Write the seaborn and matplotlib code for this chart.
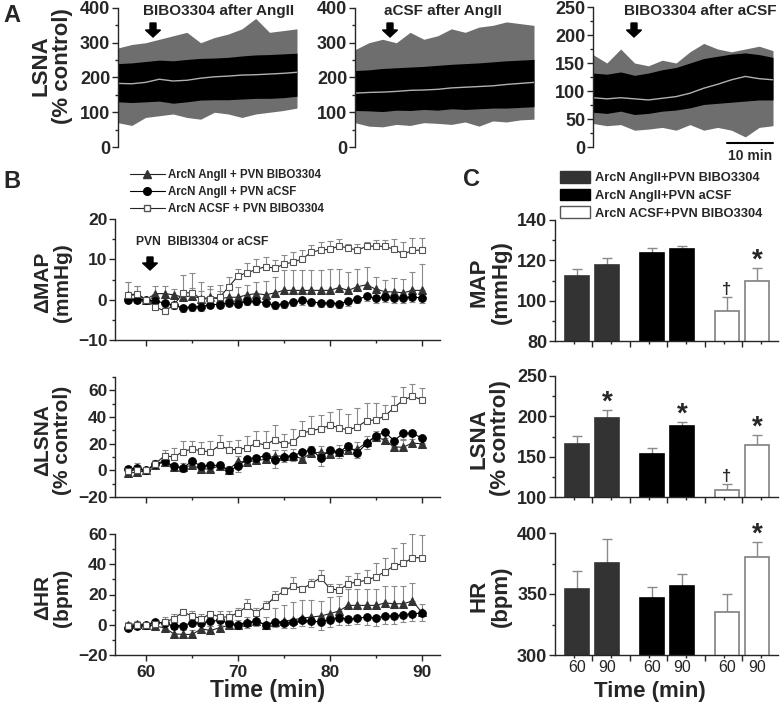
import numpy as np
import pandas as pd
import matplotlib
matplotlib.use("Agg")
import matplotlib.pyplot as plt
import seaborn as sns
from matplotlib.patches import Patch, FancyArrow
from matplotlib.lines import Line2D
from matplotlib.ticker import MultipleLocator

# ---------------- data ----------------
# Panel A: raw LSNA traces, read as envelopes (min vs % control)
a_time = [0, 3, 6, 9, 12, 15, 18, 21, 24, 27, 30, 33, 36, 39]
a1_outer_hi = [285, 295, 300, 310, 320, 330, 300, 315, 325, 340, 370, 330, 335, 340]
a1_inner_hi = [240, 242, 246, 250, 248, 252, 255, 256, 258, 262, 265, 266, 268, 270]
a1_mean = [183, 182, 186, 195, 190, 192, 198, 202, 204, 207, 208, 210, 212, 215]
a1_inner_lo = [130, 128, 130, 132, 126, 130, 135, 136, 136, 138, 140, 140, 142, 146]
a1_outer_lo = [70, 62, 85, 90, 95, 85, 80, 100, 95, 85, 95, 100, 105, 112]

a2_outer_hi = [280, 300, 310, 300, 330, 310, 320, 340, 330, 345, 350, 360, 355, 350]
a2_inner_hi = [220, 222, 226, 228, 230, 232, 235, 238, 240, 242, 245, 248, 250, 252]
a2_mean = [155, 157, 158, 160, 163, 164, 166, 170, 172, 174, 176, 180, 183, 186]
a2_inner_lo = [105, 104, 102, 106, 105, 108, 106, 110, 108, 110, 112, 112, 114, 116]
a2_outer_lo = [70, 60, 58, 65, 62, 70, 68, 65, 72, 60, 75, 72, 78, 80]

a3_outer_hi = [165, 150, 175, 150, 145, 155, 150, 170, 185, 175, 170, 175, 180, 172]
a3_inner_hi = [132, 130, 134, 128, 132, 138, 142, 150, 158, 162, 166, 168, 165, 160]
a3_mean = [88, 86, 88, 86, 84, 87, 90, 96, 105, 112, 120, 126, 122, 120]
a3_inner_lo = [62, 60, 64, 58, 60, 64, 66, 70, 76, 78, 80, 82, 84, 84]
a3_outer_lo = [42, 38, 40, 30, 32, 35, 30, 40, 30, 35, 30, 18, 35, 38]

# Panel B: time course (mean, SEM)
t = list(range(58, 91))
map_tri = [1.1, 1.2, 0, 1.5, 1.5, 1.2, 0.6, 1.0, 0.2, 0.6, 0.2, 0.6, 0.6, 1.2, 1.5, 1.2, 1.7,
           2.3, 2.3, 2.3, 2.3, 2.3, 2.3, 3.0, 2.3, 3.2, 3.7, 2.6, 2.0, 1.9, 1.7, 2.3, 2.3]
map_tri_e = [3.3, 2.1, 0, 2.0, 2.0, 1.5, 1.5, 2.0, 2.0, 2.0, 2.0, 2.5, 2.5, 2.5, 3.0, 3.5, 4.0,
             5.0, 5.0, 5.0, 5.0, 5.0, 5.2, 4.5, 4.5, 4.5, 4.5, 3.0, 3.0, 3.5, 3.5, 4.5, 6.5]
map_ci = [0, 0, 0, -0.4, -0.8, -1.4, -2.0, -1.8, -1.7, -1.2, -1.2, -0.8, -1.0, -0.4, -0.4, -0.8, -1.4,
          -1.0, -0.6, -0.2, -0.6, -0.8, -0.8, -1.0, -0.4, 0.1, 0.8, 0.4, 0.7, 0.4, 0.4, 0.7, 0.4]
map_ci_e = [0.8, 0.8, 0, 0.8, 1.0, 1.0, 1.0, 1.0, 1.0, 0.8, 0.8, 0.8, 0.8, 0.8, 0.8, 0.8, 0.8,
            1.0, 1.0, 1.0, 1.0, 1.0, 1.0, 1.0, 1.2, 1.0, 1.2, 1.2, 1.2, 1.2, 1.2, 1.2, 1.2]
map_sq = [1.1, 1.5, 0, -1.8, -2.8, -1.4, 1.7, 1.7, 0.2, 0.2, 0.6, 3.2, 5.9, 6.7, 7.5, 8.2, 7.8,
          8.8, 9.3, 10.1, 11.8, 12.3, 12.5, 13.3, 12.8, 12.3, 13.2, 13.3, 13.2, 12.5, 11.3, 12.2, 12.3]
map_sq_e = [3.3, 2.0, 0, 1.5, 1.5, 1.5, 4.5, 5.0, 4.2, 3.2, 3.0, 2.5, 1.8, 2.3, 2.5, 2.3, 2.0,
            2.3, 2.5, 2.3, 1.7, 2.0, 2.1, 1.8, 1.0, 1.5, 1.0, 1.5, 1.5, 2.5, 3.0, 3.0, 3.0]

lsna_tri = [-2, -1.5, 0, 4.2, 6.2, 2.5, 2.5, 3.7, 1, 1, 3.5, 0.5, 6.7, 6.2, 7.4, 8.2, 11,
            10.4, 11, 8.7, 13, 13.6, 12.4, 14, 15.4, 15.9, 21, 24.8, 22.8, 17.4, 17.4, 20.5, 19.8]
lsna_tri_e = [3, 3, 0, 3, 3, 3, 3, 3, 3, 3, 3, 3, 4, 4, 4, 4, 4,
              5, 5, 5, 5, 5, 5, 5, 5, 5, 5, 5, 5, 5, 5, 5, 5]
lsna_ci = [1, 1.5, 0, 5, 7, 3, 1.7, 7, 3, 3.7, 3.7, 0, 3, 8.7, 9.4, 11, 7.4,
           9.9, 11, 13.6, 15.4, 9.4, 15.4, 13.6, 18.6, 12.9, 20.3, 26, 28.5, 22.3, 27.8, 27.8, 24.3]
lsna_ci_e = [3, 3, 0, 3, 3, 3, 3, 3, 3, 3, 3, 3, 4, 4, 4, 4, 6,
             4, 4, 4, 4, 6, 4, 4, 4, 4, 4, 4, 4, 4, 4, 4, 4]
lsna_sq = [-0.5, 0.5, 0, 5, 11, 10, 14, 16, 14.6, 13.9, 18.8, 15.6, 15.6, 16.9, 20.5, 19, 23,
           19.6, 21, 27.8, 29.8, 31.2, 33.7, 32, 30.2, 32.7, 37.2, 37.9, 40.7, 47.1, 52.8, 55.5, 53]
lsna_sq_e = [4, 5, 0, 3, 4, 7, 8, 6, 7, 8, 8, 6.5, 7, 9, 9, 10.5, 11,
             8, 10, 9, 10.7, 10, 10, 14, 12, 14, 13.5, 12.5, 8.5, 9, 10, 9.5, 8.5]

hr_tri = [0, 0.7, 0, -1, -2, -6, -6.4, -6.4, -2.7, -3.8, -2, -0.4, 0, 1.8, 2.2, 0, 1.8,
          2.2, 3.3, 4.4, 5.1, 5.8, 7.3, 9.1, 12.8, 12.8, 12.8, 12.8, 14.4, 13.9, 13.9, 15.7, 8.4]
hr_tri_e = [2, 2, 0, 2, 2, 3, 3, 3, 3, 3, 3, 3, 3, 3, 4, 5, 9,
            11, 12, 12, 11, 10, 11, 10, 11, 11, 11, 11, 11, 12, 12, 12, 5]
hr_ci = [-2, -0.5, 0, 1.8, 1.1, -1, -0.5, 1.3, 1.3, 2.2, 2.9, 1.1, 0, 1.1, 2.4, 0, 1.8,
         1.1, 1.8, 2.9, 2.4, 1.8, 3.3, 4.6, 3.8, 4.2, 5.1, 4.4, 5.8, 5.8, 6.6, 7.3, 7.7]
hr_ci_e = [2, 2, 0, 2, 2, 2, 2, 2, 2, 3, 3, 3, 3, 3, 3, 3, 3,
           3, 4, 4, 4, 5, 5, 5, 4, 4, 5, 5, 5, 5, 5, 5, 5]
hr_sq = [-1, 0, 0, 0.7, 1.8, 4, 8.4, 5.8, 4, 7.3, 5.1, 5.1, 8, 12.2, 8, 12.4, 18.4,
         22.1, 25.7, 23.9, 27.2, 31.2, 23.9, 22.8, 27.2, 28.3, 29.4, 31.7, 35, 39, 40.5, 44.3, 44.3]
hr_sq_e = [2, 2, 0, 2, 3, 3, 2, 3, 3, 2, 4, 4, 3, 5, 3, 3, 4,
           3, 6, 2, 3, 5, 3, 4, 5, 6, 7, 9, 9, 12, 13.5, 15.5, 15]

series_names = ["ArcN AngII + PVN BIBO3304", "ArcN AngII + PVN aCSF", "ArcN ACSF + PVN BIBO3304"]

# Panel C: bar values at 60 and 90 min
bar_groups = ["ArcN AngII+PVN BIBO3304", "ArcN AngII+PVN aCSF", "ArcN ACSF+PVN BIBO3304"]
bar_times = ["60", "90", "60", "90", "60", "90"]
c_map = [112.4, 117.9, 123.5, 125.5, 95.0, 109.6]
c_map_e = [3.5, 3.4, 2.5, 1.8, 7.0, 6.8]
c_map_sig = ["", "", "", "", "\u2020", "*"]
c_lsna = [165.9, 197.8, 153.9, 188.3, 109.1, 165.0]
c_lsna_e = [9.9, 10.3, 6.6, 4.1, 7.1, 12.0]
c_lsna_sig = ["", "*", "", "*", "\u2020", "*"]
c_hr = [354.0, 375.6, 346.8, 356.7, 335.0, 380.0]
c_hr_e = [14.8, 19.2, 9.1, 9.9, 14.6, 12.3]
c_hr_sig = ["", "", "", "", "", "*"]

# ---------------- style ----------------
sns.set_style("ticks")
plt.rcParams['font.family'] = ['Liberation Sans', 'DejaVu Sans']
plt.rcParams['font.weight'] = 'bold'
plt.rcParams['axes.linewidth'] = 1.0
plt.rcParams['xtick.major.size'] = 4
plt.rcParams['ytick.major.size'] = 4
plt.rcParams['xtick.minor.size'] = 2.5
plt.rcParams['ytick.minor.size'] = 2.5
plt.rcParams['xtick.major.pad'] = 3.5
plt.rcParams['ytick.major.pad'] = 1.5

W, H = 780, 704
fig = plt.figure(figsize=(7.8, 7.04), dpi=100)


def box(x0, x1, y0, y1):
    return fig.add_axes([x0 / W, 1 - y1 / H, (x1 - x0) / W, (y1 - y0) / H])


def ftext(x, y, s, **kw):
    fig.text(x / W, 1 - y / H, s, **kw)


def down_arrow(x, y0, y1):
    fig.add_artist(FancyArrow(x / W, 1 - y0 / H, 0, -(y1 - y0) / H, width=6 / W,
                              head_width=15 / W, head_length=7 / H,
                              length_includes_head=True, color='k',
                              transform=fig.transFigure))


def clean(ax, bottom=True):
    sns.despine(ax=ax, top=True, right=True, bottom=not bottom)
    ax.tick_params(which='both', direction='out', width=1)


# ---------------- panel A ----------------
a_boxes = [(118, 297, 8, 147), (355, 534, 8, 147), (593, 773, 7, 147)]
a_sets = [(a1_outer_hi, a1_inner_hi, a1_mean, a1_inner_lo, a1_outer_lo, 400, 100),
          (a2_outer_hi, a2_inner_hi, a2_mean, a2_inner_lo, a2_outer_lo, 400, 100),
          (a3_outer_hi, a3_inner_hi, a3_mean, a3_inner_lo, a3_outer_lo, 250, 50)]
for (x0, x1, y0, y1), (ohi, ihi, mn, ilo, olo, top, step) in zip(a_boxes, a_sets):
    ax = box(x0, x1, y0, y1)
    ax.fill_between(a_time, olo, ohi, color='#6e6e6e', lw=0)
    ax.fill_between(a_time, ilo, ihi, color='black', lw=0)
    sns.lineplot(x=a_time, y=mn, ax=ax, color='#b0b0b0', lw=1)
    ax.set_xlim(0, 39)
    ax.set_ylim(0, top)
    ax.yaxis.set_major_locator(MultipleLocator(step))
    ax.yaxis.set_minor_locator(MultipleLocator(step / 2))
    ax.set_xticks([])
    clean(ax, bottom=False)
    ax.tick_params(axis='y', labelsize=13)
    for lab in ax.get_yticklabels():
        lab.set_fontweight('bold')

ftext(219, 11, "BIBO3304 after AngII", ha='center', va='center', fontsize=11)
ftext(443, 11, "aCSF after AngII", ha='center', va='center', fontsize=11)
ftext(700, 11, "BIBO3304 after aCSF", ha='center', va='center', fontsize=11)
down_arrow(153, 23, 37)
down_arrow(390, 23, 37)
down_arrow(634, 23, 37)
fig.add_artist(Line2D([727 / W, 773 / W], [1 - 143 / H, 1 - 143 / H], color='k', lw=1.5,
                      transform=fig.transFigure))
ftext(750, 156, "10 min", ha='center', va='center', fontsize=10)
ftext(52, 66, "LSNA\n(% control)", rotation=90, ha='center', va='center', fontsize=16,
      multialignment='center', linespacing=1.05)
ftext(12, 16, "A", ha='center', va='center', fontsize=17)

# ---------------- panel B ----------------
b_boxes = [(115, 440, 219, 340), (115, 440, 377, 497), (115, 440, 534, 655)]
b_data = [(map_tri, map_tri_e, map_ci, map_ci_e, map_sq, map_sq_e, (-10, 20), 10, 5),
          (lsna_tri, lsna_tri_e, lsna_ci, lsna_ci_e, lsna_sq, lsna_sq_e, (-20, 70), 20, 10),
          (hr_tri, hr_tri_e, hr_ci, hr_ci_e, hr_sq, hr_sq_e, (-20, 60), 20, 10)]
b_labels = ["\u0394MAP\n(mmHg)", "\u0394LSNA\n(% control)", "\u0394HR\n(bpm)"]
zeros = [0] * len(t)
err_kw = dict(fmt='none', ecolor='#8a8a8a', elinewidth=0.8, capsize=2.5, capthick=0.8)
for i, ((x0, x1, y0, y1), (tri, tri_e, ci, ci_e, sq, sq_e, ylim, maj, mnr)) in enumerate(zip(b_boxes, b_data)):
    ax = box(x0, x1, y0, y1)
    ax.errorbar(t, tri, yerr=[zeros, tri_e], zorder=1, **err_kw)
    ax.errorbar(t, ci, yerr=[ci_e, zeros], zorder=1, **err_kw)
    ax.errorbar(t, sq, yerr=[zeros, sq_e], zorder=1, **err_kw)
    sns.lineplot(x=t, y=tri, ax=ax, color='#222222', lw=0.8, marker='^', markersize=6,
                 markerfacecolor='#333333', markeredgecolor='#333333', zorder=3)
    sns.lineplot(x=t, y=ci, ax=ax, color='black', lw=0.8, marker='o', markersize=5.5,
                 markerfacecolor='black', markeredgecolor='black', zorder=4)
    sns.lineplot(x=t, y=sq, ax=ax, color='#222222', lw=0.8, marker='s', markersize=5,
                 markerfacecolor='white', markeredgecolor='#555555', markeredgewidth=0.8, zorder=5)
    ax.set_xlim(56.6, 92)
    ax.set_ylim(*ylim)
    ax.xaxis.set_major_locator(MultipleLocator(10))
    ax.xaxis.set_minor_locator(MultipleLocator(5))
    ax.yaxis.set_major_locator(MultipleLocator(maj))
    ax.yaxis.set_minor_locator(MultipleLocator(mnr))
    clean(ax)
    ax.tick_params(labelsize=12.5)
    if i < 2:
        ax.set_xticklabels([])
    for lab in ax.get_xticklabels() + ax.get_yticklabels():
        lab.set_fontweight('bold')
    ftext(53, (y0 + y1) / 2 + 3, b_labels[i], rotation=90, ha='center', va='center',
          fontsize=15, multialignment='center', linespacing=1.05)
    if i == 0:
        b_handles = [Line2D([], [], color='#222222', lw=0.8, marker='^', markersize=6,
                            markerfacecolor='#333333', markeredgecolor='#333333'),
                     Line2D([], [], color='black', lw=0.8, marker='o', markersize=5.5,
                            markerfacecolor='black'),
                     Line2D([], [], color='#222222', lw=0.8, marker='s', markersize=5,
                            markerfacecolor='white', markeredgecolor='#555555')]
        ax.legend(b_handles, series_names, loc='upper left', frameon=False,
                  bbox_to_anchor=(130 / W, 1 - 169 / H), bbox_transform=fig.transFigure,
                  fontsize=8.3, handlelength=3.0, handletextpad=0.3, labelspacing=0.42,
                  borderpad=0, borderaxespad=0)

ftext(202, 242, "PVN  BIBI3304 or aCSF", ha='center', va='center', fontsize=8.7)
down_arrow(150, 257, 270)
ftext(268, 691, "Time (min)", ha='center', va='center', fontsize=16.5)
ftext(12, 182, "B", ha='center', va='center', fontsize=17)

# ---------------- panel C ----------------
centers = [0.59, 1.39, 2.59, 3.39, 4.59, 5.39]
fills = ['#333333', '#333333', 'black', 'black', 'white', 'white']
edges = ['#333333', '#333333', 'black', 'black', '#808080', '#808080']
c_boxes = [(555, 778, 220, 341), (555, 778, 376, 497), (555, 778, 533, 655)]
c_data = [(c_map, c_map_e, c_map_sig, (80, 140), 20, 10),
          (c_lsna, c_lsna_e, c_lsna_sig, (100, 250), 50, 25),
          (c_hr, c_hr_e, c_hr_sig, (300, 400), 50, 25)]
c_labels = ["MAP\n(mmHg)", "LSNA\n(% control)", "HR\n(bpm)"]
for i, ((x0, x1, y0, y1), (mn, er, sig, ylim, maj, mnr)) in enumerate(zip(c_boxes, c_data)):
    ax = box(x0, x1, y0, y1)
    ax.bar(centers, mn, width=0.64, color=fills, edgecolor=edges, lw=1.2, zorder=2)
    ax.errorbar(centers, mn, yerr=[[0] * 6, er], fmt='none', ecolor='#8a8a8a',
                elinewidth=1, capsize=3.5, capthick=1, zorder=1)
    for c, m, e, s in zip(centers, mn, er, sig):
        if s == "*":
            ax.annotate(s, (c, m + e), xytext=(0, -4), textcoords='offset points',
                        ha='center', va='bottom', fontsize=20)
        elif s:
            ax.annotate(s, (c, m + e), xytext=(0, 0), textcoords='offset points',
                        ha='center', va='bottom', fontsize=12)
    ax.set_xlim(0, 5.95)
    ax.set_ylim(*ylim)
    ax.set_xticks([1, 2, 3, 4, 5])
    ax.set_xticks(np.arange(0.5, 6, 1.0), minor=True)
    ax.set_xticklabels([])
    ax.yaxis.set_major_locator(MultipleLocator(maj))
    ax.yaxis.set_minor_locator(MultipleLocator(mnr))
    clean(ax)
    ax.tick_params(axis='y', labelsize=13)
    for lab in ax.get_yticklabels():
        lab.set_fontweight('bold')
    ftext(490, (y0 + y1) / 2 + 2, c_labels[i], rotation=90, ha='center', va='center',
          fontsize=16, multialignment='center', linespacing=1.05)
    if i == 2:
        for c, lab in zip(centers, bar_times):
            ax.text(c, -0.045, lab, transform=ax.get_xaxis_transform(), ha='center', va='top',
                    fontsize=11.5, fontweight='normal')
    if i == 0:
        c_handles = [Patch(facecolor=f, edgecolor=e, lw=1) for f, e in
                     zip(['#333333', 'black', 'white'], ['#333333', 'black', '#555555'])]
        ax.legend(c_handles, bar_groups, loc='upper left', frameon=False,
                  bbox_to_anchor=(560 / W, 1 - 171 / H), bbox_transform=fig.transFigure,
                  fontsize=9.3, handlelength=2.3, handleheight=1.0, handletextpad=0.4,
                  labelspacing=0.35, borderpad=0, borderaxespad=0)

ftext(650, 692, "Time (min)", ha='center', va='center', fontsize=16)
ftext(471, 180, "C", ha='center', va='center', fontsize=17)

fig.savefig("out.png", dpi=100)
